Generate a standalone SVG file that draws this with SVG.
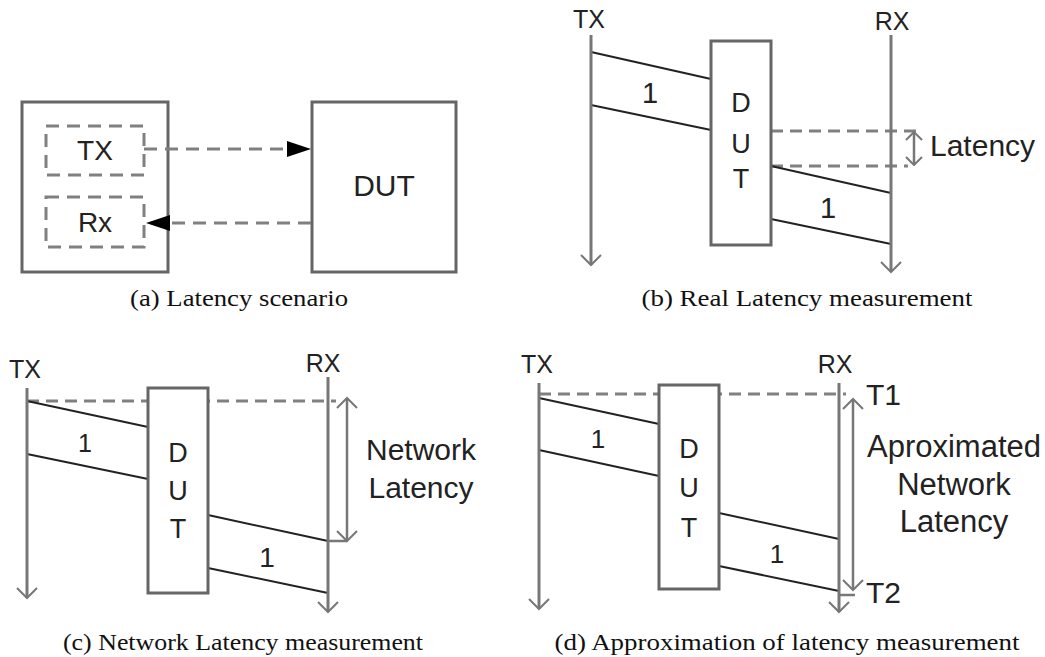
<svg xmlns="http://www.w3.org/2000/svg" width="1045" height="657" viewBox="0 0 1045 657">
  <style>
    .box { fill: #fff; stroke: #666; stroke-width: 3; }
    .axis { fill: none; stroke: #777; stroke-width: 3; }
    .msg { fill: none; stroke: #222; stroke-width: 2; }
    .dash { fill: none; stroke: #808080; stroke-width: 3; stroke-dasharray: 12 7; }
    .dashA { fill: none; stroke: #808080; stroke-width: 3; stroke-dasharray: 13 8; }
    .thin { fill: none; stroke: #777; stroke-width: 2.5; }
    .lbl { font-family: "Liberation Sans", Arial, sans-serif; fill: #222; }
    .mid { text-anchor: middle; }
    .cap { font-family: "Liberation Serif", "Times New Roman", serif; font-size: 23px; fill: #111; text-anchor: middle; }
  </style>
  <defs>
    <marker id="vee" markerUnits="userSpaceOnUse" viewBox="-1 -1 13 22" refX="10" refY="10" markerWidth="13" markerHeight="22" orient="auto-start-reverse">
      <path d="M0,0 L10,10 L0,20" fill="none" stroke="#777" stroke-width="2"/>
    </marker>
    <marker id="veeS" markerUnits="userSpaceOnUse" viewBox="-1 -1 10 18" refX="8" refY="8" markerWidth="10" markerHeight="18" orient="auto-start-reverse">
      <path d="M0,0 L8,8 L0,16" fill="none" stroke="#777" stroke-width="2"/>
    </marker>
    <marker id="tri" markerUnits="userSpaceOnUse" viewBox="0 0 24 16" refX="24" refY="8" markerWidth="24" markerHeight="16" orient="auto">
      <path d="M0,0 L24,8 L0,16 Z" fill="#000"/>
    </marker>
  </defs>

  <!-- (a) latency scenario -->
  <g id="a-tester">
    <rect class="box" x="22" y="102" width="146" height="170"/>
  </g>
  <g id="a-tx">
    <rect class="dashA" x="46" y="126" width="98" height="49"/>
    <text class="lbl mid" x="95" y="160" font-size="28">TX</text>
  </g>
  <g id="a-rx">
    <rect class="dashA" x="46" y="197" width="98" height="50"/>
    <text class="lbl mid" x="95" y="232" font-size="28">Rx</text>
  </g>
  <g id="a-dut">
    <rect class="box" x="312" y="102" width="144" height="170"/>
    <text class="lbl mid" x="384" y="196" font-size="30">DUT</text>
  </g>
  <g id="a-connectors">
    <line class="dashA" x1="144" y1="149" x2="311" y2="149" marker-end="url(#tri)"/>
    <line class="dashA" x1="311" y1="223" x2="146" y2="223" marker-end="url(#tri)"/>
  </g>
  <text class="cap" x="239" y="306" textLength="218" lengthAdjust="spacingAndGlyphs">(a) Latency scenario</text>

  <!-- (b) real latency measurement -->
  <g id="b-connectors">
    <line class="dash" x1="771" y1="131" x2="916" y2="131"/>
    <line class="dash" x1="771" y1="166" x2="908" y2="166"/>
    <line class="msg" x1="591" y1="52" x2="711" y2="79"/>
    <line class="msg" x1="591" y1="105" x2="711" y2="130"/>
    <line class="msg" x1="771" y1="166" x2="891" y2="193"/>
    <line class="msg" x1="771" y1="219" x2="891" y2="244"/>
    <line class="thin" x1="914" y1="132" x2="914" y2="165" marker-start="url(#veeS)" marker-end="url(#veeS)"/>
  </g>
  <g id="b-tx">
    <text class="lbl mid" x="589" y="28" font-size="25">TX</text>
    <line class="axis" x1="591" y1="35" x2="591" y2="265" marker-end="url(#vee)"/>
  </g>
  <g id="b-rx">
    <text class="lbl mid" x="892" y="30" font-size="25">RX</text>
    <line class="axis" x1="891" y1="35" x2="891" y2="272" marker-end="url(#vee)"/>
  </g>
  <g id="b-dut">
    <rect class="box" x="711" y="41" width="60" height="204"/>
    <text class="lbl mid" x="741" y="112" font-size="27">D</text>
    <text class="lbl mid" x="741" y="153" font-size="27">U</text>
    <text class="lbl mid" x="741" y="188" font-size="27">T</text>
  </g>
  <text class="lbl mid" x="650" y="103" font-size="29">1</text>
  <text class="lbl mid" x="828" y="218" font-size="29">1</text>
  <text class="lbl" x="930" y="156" font-size="30">Latency</text>
  <text class="cap" x="807" y="306" textLength="331" lengthAdjust="spacingAndGlyphs">(b) Real Latency measurement</text>

  <!-- (c) network latency measurement -->
  <g id="c-connectors">
    <line class="dash" x1="27" y1="401" x2="336" y2="401"/>
    <line class="msg" x1="27" y1="401" x2="148" y2="427"/>
    <line class="msg" x1="27" y1="454" x2="148" y2="479"/>
    <line class="msg" x1="208" y1="515" x2="328" y2="541"/>
    <line class="msg" x1="208" y1="568" x2="328" y2="593"/>
    <line class="thin" x1="328" y1="541" x2="347" y2="541"/>
    <line class="thin" x1="347" y1="398" x2="347" y2="541" marker-start="url(#vee)" marker-end="url(#vee)"/>
  </g>
  <g id="c-tx">
    <text class="lbl mid" x="25" y="378" font-size="25">TX</text>
    <line class="axis" x1="27" y1="388" x2="27" y2="598" marker-end="url(#vee)"/>
  </g>
  <g id="c-rx">
    <text class="lbl mid" x="323" y="372" font-size="25">RX</text>
    <line class="axis" x1="328" y1="377" x2="328" y2="612" marker-end="url(#vee)"/>
  </g>
  <g id="c-dut">
    <rect class="box" x="148" y="388" width="60" height="205"/>
    <text class="lbl mid" x="178" y="462" font-size="27">D</text>
    <text class="lbl mid" x="178" y="500" font-size="27">U</text>
    <text class="lbl mid" x="178" y="538" font-size="27">T</text>
  </g>
  <text class="lbl mid" x="85" y="452" font-size="25">1</text>
  <text class="lbl mid" x="267" y="567" font-size="28">1</text>
  <text class="lbl mid" x="421" y="460" font-size="30">Network</text>
  <text class="lbl mid" x="421" y="498" font-size="30">Latency</text>
  <text class="cap" x="243" y="650" textLength="360" lengthAdjust="spacingAndGlyphs">(c) Network Latency measurement</text>

  <!-- (d) approximation of latency measurement -->
  <g id="d-connectors">
    <line class="dash" x1="539" y1="394" x2="846" y2="394"/>
    <line class="msg" x1="539" y1="398" x2="659" y2="424"/>
    <line class="msg" x1="539" y1="450" x2="659" y2="476"/>
    <line class="msg" x1="719" y1="513" x2="839" y2="539"/>
    <line class="msg" x1="719" y1="566" x2="839" y2="591"/>
    <line class="thin" x1="839" y1="595" x2="855" y2="595"/>
    <line class="thin" x1="853" y1="399" x2="853" y2="590" marker-start="url(#vee)" marker-end="url(#vee)"/>
  </g>
  <g id="d-tx">
    <text class="lbl mid" x="537" y="373" font-size="25">TX</text>
    <line class="axis" x1="539" y1="383" x2="539" y2="609" marker-end="url(#vee)"/>
  </g>
  <g id="d-rx">
    <text class="lbl mid" x="835" y="373" font-size="25">RX</text>
    <line class="axis" x1="839" y1="383" x2="839" y2="612" marker-end="url(#vee)"/>
  </g>
  <g id="d-dut">
    <rect class="box" x="659" y="385" width="60" height="204"/>
    <text class="lbl mid" x="689" y="458" font-size="27">D</text>
    <text class="lbl mid" x="689" y="497" font-size="27">U</text>
    <text class="lbl mid" x="689" y="537" font-size="27">T</text>
  </g>
  <text class="lbl mid" x="598" y="448" font-size="26">1</text>
  <text class="lbl mid" x="777" y="563" font-size="26">1</text>
  <text class="lbl" x="866" y="405" font-size="30">T1</text>
  <text class="lbl" x="866" y="603" font-size="30">T2</text>
  <text class="lbl mid" x="954" y="457" font-size="31">Aproximated</text>
  <text class="lbl mid" x="954" y="495" font-size="31">Network</text>
  <text class="lbl mid" x="954" y="532" font-size="31">Latency</text>
  <text class="cap" x="787" y="650" textLength="465" lengthAdjust="spacingAndGlyphs">(d) Approximation of latency measurement</text>
</svg>
